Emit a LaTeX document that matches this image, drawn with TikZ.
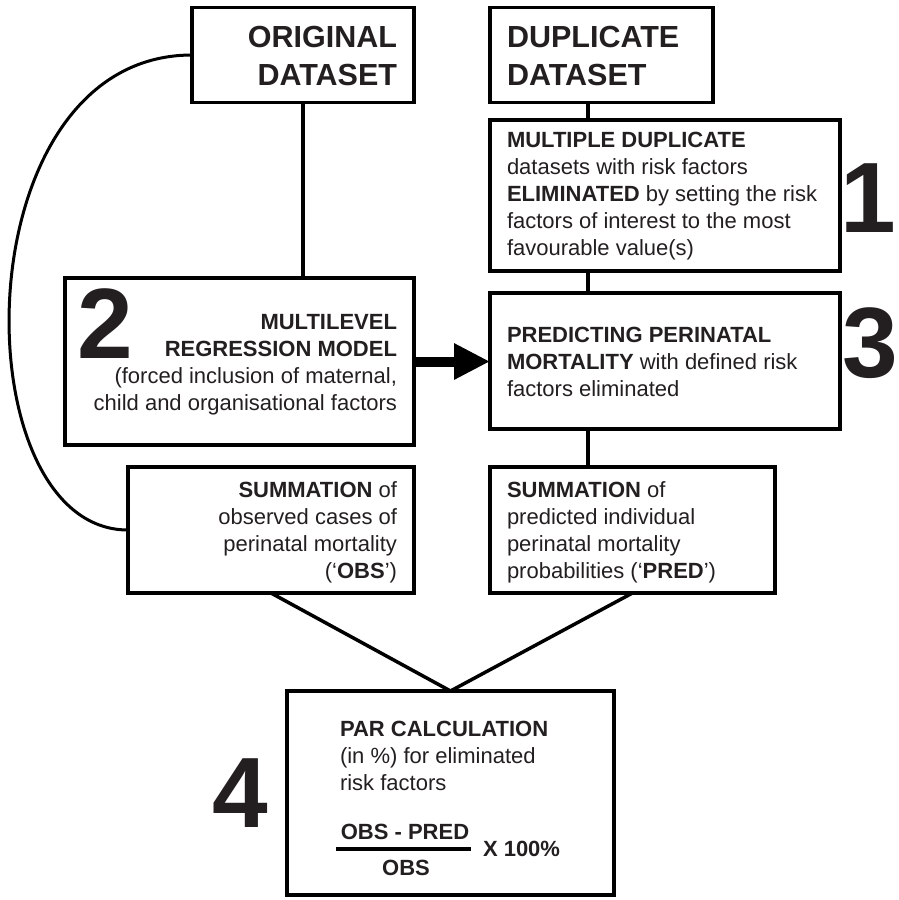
\documentclass[tikz,border=0pt]{standalone}
\usepackage{fontspec}
\setmainfont{Liberation Sans}
\usetikzlibrary{arrows.meta}
\definecolor{ink}{RGB}{35,31,32}
\begin{document}
\begin{tikzpicture}[x=1pt,y=-1pt,
  box/.style={draw=black, line width=3.5pt, inner sep=0pt, outer sep=0pt, rectangle},
  txt/.style={inner sep=0pt, outer sep=0pt, text=ink, font=\fontsize{22}{27}\selectfont},
  title/.style={inner sep=0pt, outer sep=0pt, text=ink, font=\fontsize{30.5}{38}\selectfont\bfseries},
  bignum/.style={inner sep=0pt, outer sep=0pt, text=ink, font=\fontsize{100}{100}\selectfont\bfseries},
  conn/.style={line width=3.5pt, draw=black},
  bigarrow/.style={line width=10pt, draw=black, -{Triangle[length=36pt,width=34pt]}}]
\useasboundingbox (0,0) rectangle (899,900);

% boxes
\node[box, minimum width=222pt, minimum height=95pt]  (orig) at (303,55) {};
\node[box, minimum width=223pt, minimum height=95pt]  (dup)  at (601.5,55) {};
\node[box, minimum width=350pt, minimum height=151pt] (b1)   at (665,195.5) {};
\node[box, minimum width=349pt, minimum height=167pt] (b2)   at (239.5,361.5) {};
\node[box, minimum width=350pt, minimum height=136pt] (b3)   at (665,361) {};
\node[box, minimum width=286pt, minimum height=126pt] (sumL) at (271,530) {};
\node[box, minimum width=285pt, minimum height=126pt] (sumR) at (632.5,530) {};
\node[box, minimum width=327pt, minimum height=204pt] (par)  at (450.5,793) {};

% texts
\node[title, anchor=north east, align=right] (torig) at (397,26) {ORIGINAL\\DATASET};
\node[title, anchor=north west, align=left]  (tdup)  at (507,26) {DUPLICATE\\DATASET};
\node[txt, anchor=north west, align=left] (t1) at (507,132)
  {\textbf{MULTIPLE DUPLICATE}\\datasets with risk factors\\\textbf{ELIMINATED} by setting the risk\\factors of interest to the most\\favourable value(s)};
\node[txt, anchor=north east, align=right] (t2) at (397,314)
  {\textbf{MULTILEVEL}\\\textbf{REGRESSION MODEL}\\(forced inclusion of maternal,\\child and organisational factors};
\node[txt, anchor=north west, align=left] (t3) at (507,327)
  {\textbf{PREDICTING PERINATAL}\\\textbf{MORTALITY} with defined risk\\factors eliminated};
\node[txt, anchor=north east, align=right] (tsl) at (397,482)
  {\textbf{SUMMATION} of\\observed cases of\\perinatal mortality\\(‘\textbf{OBS}’)};
\node[txt, anchor=north west, align=left] (tsr) at (507,482)
  {\textbf{SUMMATION} of\\predicted individual\\perinatal mortality\\probabilities (‘\textbf{PRED}’)};
\node[txt, anchor=north west, align=left] (tpar) at (340,721)
  {\textbf{PAR CALCULATION}\\(in \%) for eliminated\\risk factors};
\node[txt, anchor=base, font=\fontsize{22}{27}\selectfont\bfseries] (num) at (405,839) {OBS - PRED};
\node[txt, anchor=base, font=\fontsize{22}{27}\selectfont\bfseries] (den) at (406,875) {OBS};
\node[txt, anchor=base west, font=\fontsize{22}{27}\selectfont\bfseries] (times) at (483,856) {X 100\%};
\coordinate (rl) at (336,849);
\coordinate (rr) at (471,849);
\draw[line width=3.5pt] (rl) -- (rr);

% big numbers
\node[bignum, anchor=base] (n1) at (868,232) {1};
\node[bignum, anchor=base] (n2) at (105,358) {2};
\node[bignum, anchor=base] (n3) at (870,377) {3};
\node[bignum, anchor=base] (n4) at (240,827) {4};

% connectors
\coordinate (cx) at (588,0);
\draw[conn] (orig.south) -- (orig.south |- b2.north);
\draw[conn] (dup.south -| cx) -- (b1.north -| cx);
\draw[conn] (b1.south -| cx) -- (b3.north -| cx);
\draw[conn] (b3.south -| cx) -- (sumR.north -| cx);
\draw[bigarrow] (b2.east) -- (b2.east -| b3.west);
\draw[conn] (sumL.south) -- (par.north);
\draw[conn] (sumR.south) -- (par.north);
\draw[line width=3pt] (orig.west) .. controls (-40,55) and (-40,530) .. (sumL.west);
\end{tikzpicture}
\end{document}
